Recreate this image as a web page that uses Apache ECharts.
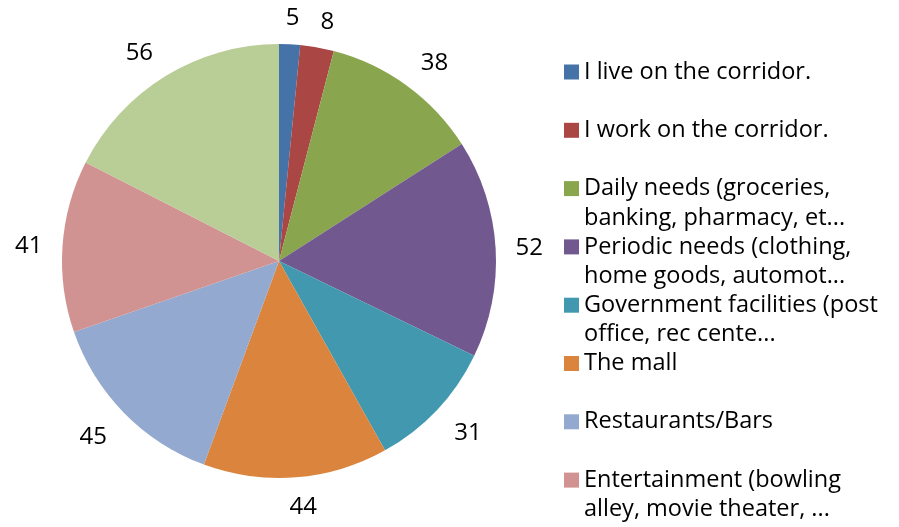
<!DOCTYPE html>
<html><head><meta charset="utf-8">
<script src="https://cdn.jsdelivr.net/npm/echarts@6/dist/echarts.min.js"></script>
<style>html,body{margin:0;padding:0;background:#fff}#c{width:899px;height:527px}</style>
</head><body><div id="c"></div>
<script>
const categories = [
  "I live on the corridor.",
  "I work on the corridor.",
  "Daily needs (groceries, banking, pharmacy, et...",
  "Periodic needs (clothing, home goods, automot...",
  "Government facilities (post office, rec cente...",
  "The mall",
  "Restaurants/Bars",
  "Entertainment (bowling alley, movie theater, ...",
  "Other"
];
const legendLines = [
  ["I live on the corridor."],
  ["I work on the corridor."],
  ["Daily needs (groceries,", "banking, pharmacy, et..."],
  ["Periodic needs (clothing,", "home goods, automot..."],
  ["Government facilities (post", "office, rec cente..."],
  ["The mall"],
  ["Restaurants/Bars"],
  ["Entertainment (bowling", "alley, movie theater, ..."]
];
const values = [5, 8, 38, 52, 31, 44, 45, 41, 56];
const colors = ["#4572A7", "#AA4643", "#89A54E", "#71588F", "#4198AF", "#DB843D", "#93A9CF", "#D19392", "#B9CD96"];

const CX = 279, CY = 261, RADIUS = 217, LABEL_GAP = 19;
const FONT = 'Open Sans', FS = 24, LFS = 23.5, LH = 29.5;

const total = values.reduce((a, b) => a + b, 0);

const legends = legendLines.map((lines, i) => ({
  orient: 'vertical',
  left: 564,
  top: 72 + 58.3 * i - (lines.length === 2 ? 1.5 : 0.5) * LH,
  padding: 0,
  itemWidth: 15,
  itemHeight: 15,
  itemGap: 0,
  icon: 'rect',
  selectedMode: false,
  data: [categories[i]],
  formatter: () => (lines.length === 2 ? '\u00a0\n' : '') + lines.join('\n'),
  textStyle: { fontFamily: FONT, fontSize: LFS, lineHeight: LH, color: '#000' }
}));

const chart = echarts.init(document.getElementById('c'));
chart.setOption({
  animation: false,
  backgroundColor: '#fff',
  color: colors,
  legend: legends,
  series: [{
    type: 'pie',
    center: [CX, CY],
    radius: RADIUS,
    startAngle: 90,
    clockwise: true,
    avoidLabelOverlap: false,
    data: values.map((v, i) => ({ name: categories[i], value: v })),
    itemStyle: { borderWidth: 0 },
    label: {
      show: true,
      position: 'outside',
      formatter: '{c}',
      fontFamily: FONT,
      fontSize: FS,
      lineHeight: 20,
      color: '#000',
      distanceToLabelLine: 0
    },
    labelLine: { show: false, length: LABEL_GAP, length2: 0 },
    labelLayout: function (p) {
      let before = 0;
      for (let i = 0; i < p.dataIndex; i++) before += values[i];
      const mid = (before + values[p.dataIndex] / 2) / total * 2 * Math.PI;
      const dx = Math.sin(mid), dy = -Math.cos(mid);
      const R = RADIUS + LABEL_GAP;
      const w = p.labelRect.width, h = p.labelRect.height;
      const m = Math.max(Math.abs(dx), Math.abs(dy));
      const ox = Math.sign(dx) * Math.min(1, Math.abs(dx) * 5) * w / 2 + dx * 5 * Math.min(1, Math.abs(dy) * 3);
      const oy = dy * h / 2 / m * 0.75 + 2;
      return {
        x: CX + R * dx + ox,
        y: CY + R * dy + oy,
        align: 'center',
        verticalAlign: 'middle'
      };
    }
  }]
});
</script>
</body></html>
